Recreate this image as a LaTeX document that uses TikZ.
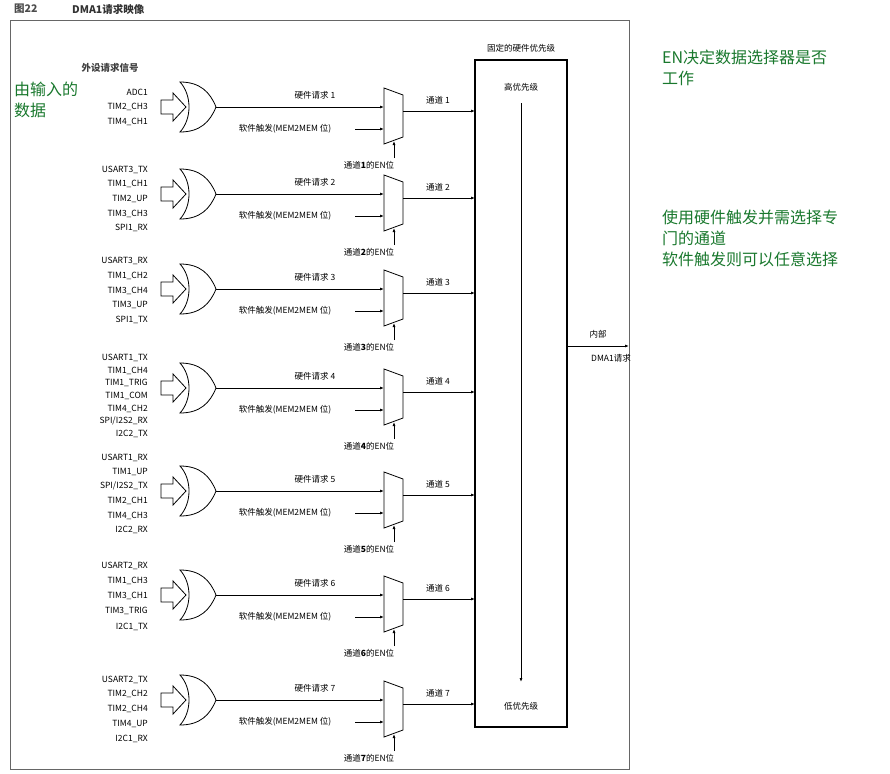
\documentclass[tikz,border=0pt]{standalone}
\usepackage{fontspec}
\setmainfont{Noto Sans CJK SC}
\usetikzlibrary{arrows.meta}
\definecolor{hand}{RGB}{25,120,45}
\begin{document}
\begin{tikzpicture}[x=1pt,y=-1pt,
  lab/.style={font=\fontsize{8.5}{9}\selectfont,inner sep=0pt},
  sig/.style={lab,anchor=east},
  note/.style={font=\fontsize{16}{21}\selectfont,text=hand,inner sep=0pt,anchor=north west,align=left},
  ln/.style={line width=0.8pt},
  arr/.style={ln,-{Latex[length=4pt,width=3pt]}}]
\useasboundingbox (0,0) rectangle (890,773);
\node[lab,anchor=west,font=\fontsize{10.5}{11}\selectfont\bfseries,text=black!70] (t1) at (14,9) {图22};
\node[lab,anchor=west,font=\fontsize{10.5}{11}\selectfont\bfseries,text=black!80] (t2) at (72,9) {DMA1请求映像};
\draw[black!60,line width=0.9pt] (10,20) rectangle (629,769);
\node[lab,font=\fontsize{9.5}{10}\selectfont\bfseries,text=black!75] (hdr) at (110,68) {外设请求信号};
% priority box
\draw[line width=1.4pt] (475,60) rectangle (567,727);
\node[lab] (fixed) at (521,48) {固定的硬件优先级};
\node[lab] (hi) at (521,87) {高优先级};
\node[lab] (lo) at (521,706) {低优先级};
\draw[arr] (hi.south) ++(0,12) coordinate (pa) -- (521,682) coordinate (pb);
\coordinate (outA) at (567,346);
\coordinate (outB) at (629,346);
\draw[arr] (outA) -- (outB);
\node[lab] (nb) at (598,334) {内部};
\node[lab] (dr) at (611,358) {DMA1请求};
% channels
\foreach \i/\h in {1/107,2/194,3/289,4/388,5/491,6/595,7/700}{
  \begin{scope}[shift={(0,\h)}]
    \draw[ln,fill=white] (161,-7) -- (173,-7) -- (173,-14) -- (186,0) -- (173,14) -- (173,7) -- (161,7) -- cycle;
    \draw[ln,fill=white] (180,-25) .. controls (192,-12) and (192,12) .. (180,25)
      .. controls (200,25) and (210,15) .. (216,0) .. controls (210,-15) and (200,-25) .. (180,-25) -- cycle;
    \coordinate (g\i) at (216,0);
    \draw[ln,fill=white] (384,-19) -- (403,-12) -- (403,30) -- (384,37) -- cycle;
    \coordinate (m\i) at (384,0);
    \coordinate (s\i) at (355,22);
    \coordinate (ms\i) at (384,22);
    \coordinate (o\i) at (403,4);
    \coordinate (p\i) at (475,4);
    \coordinate (e\i) at (394,51);
    \coordinate (me\i) at (394,34);
    \draw[arr] (g\i) -- (m\i);
    \draw[arr] (s\i) -- (ms\i);
    \draw[arr] (o\i) -- (p\i);
    \draw[arr] (e\i) -- (me\i);
    \node[lab] (hw\i) at (315,-12) {硬件请求 \i};
    \node[lab] (sw\i) at (285,22) {软件触发(MEM2MEM 位)};
    \node[lab] (ch\i) at (438,-7) {通道 \i};
    \node[lab] (en\i) at (369,58) {通道\textbf{\i}的EN位};
  \end{scope}
}
% input signal lists
\foreach \t/\y in {ADC1/92,TIM2\_CH3/107,TIM4\_CH1/122,
  USART3\_TX/170,TIM1\_CH1/184,TIM2\_UP/199,TIM3\_CH3/214,SPI1\_RX/228,
  USART3\_RX/261,TIM1\_CH2/276,TIM3\_CH4/291,TIM3\_UP/305,SPI1\_TX/320,
  USART1\_TX/358,TIM1\_CH4/371,TIM1\_TRIG/383,TIM1\_COM/396,TIM4\_CH2/409,{SPI/I2S2\_RX}/421,I2C2\_TX/434,
  USART1\_RX/458,TIM1\_UP/472,{SPI/I2S2\_TX}/486,TIM2\_CH1/501,TIM4\_CH3/516,I2C2\_RX/530,
  USART2\_RX/566,TIM1\_CH3/581,TIM3\_CH1/596,TIM3\_TRIG/611,I2C1\_TX/627,
  USART2\_TX/680,TIM2\_CH2/694,TIM2\_CH4/709,TIM4\_UP/724,I2C1\_RX/739}{
  \node[sig] at (148,\y) {\t};
}
% handwritten notes
\node[note] (n1) at (14,82) {由输入的\\数据};
\node[note] (n2) at (662,50) {EN决定数据选择器是否\\工作};
\node[note] (n3) at (662,210) {使用硬件触发并需选择专\\门的通道\\软件触发则可以任意选择};
\end{tikzpicture}
\end{document}
